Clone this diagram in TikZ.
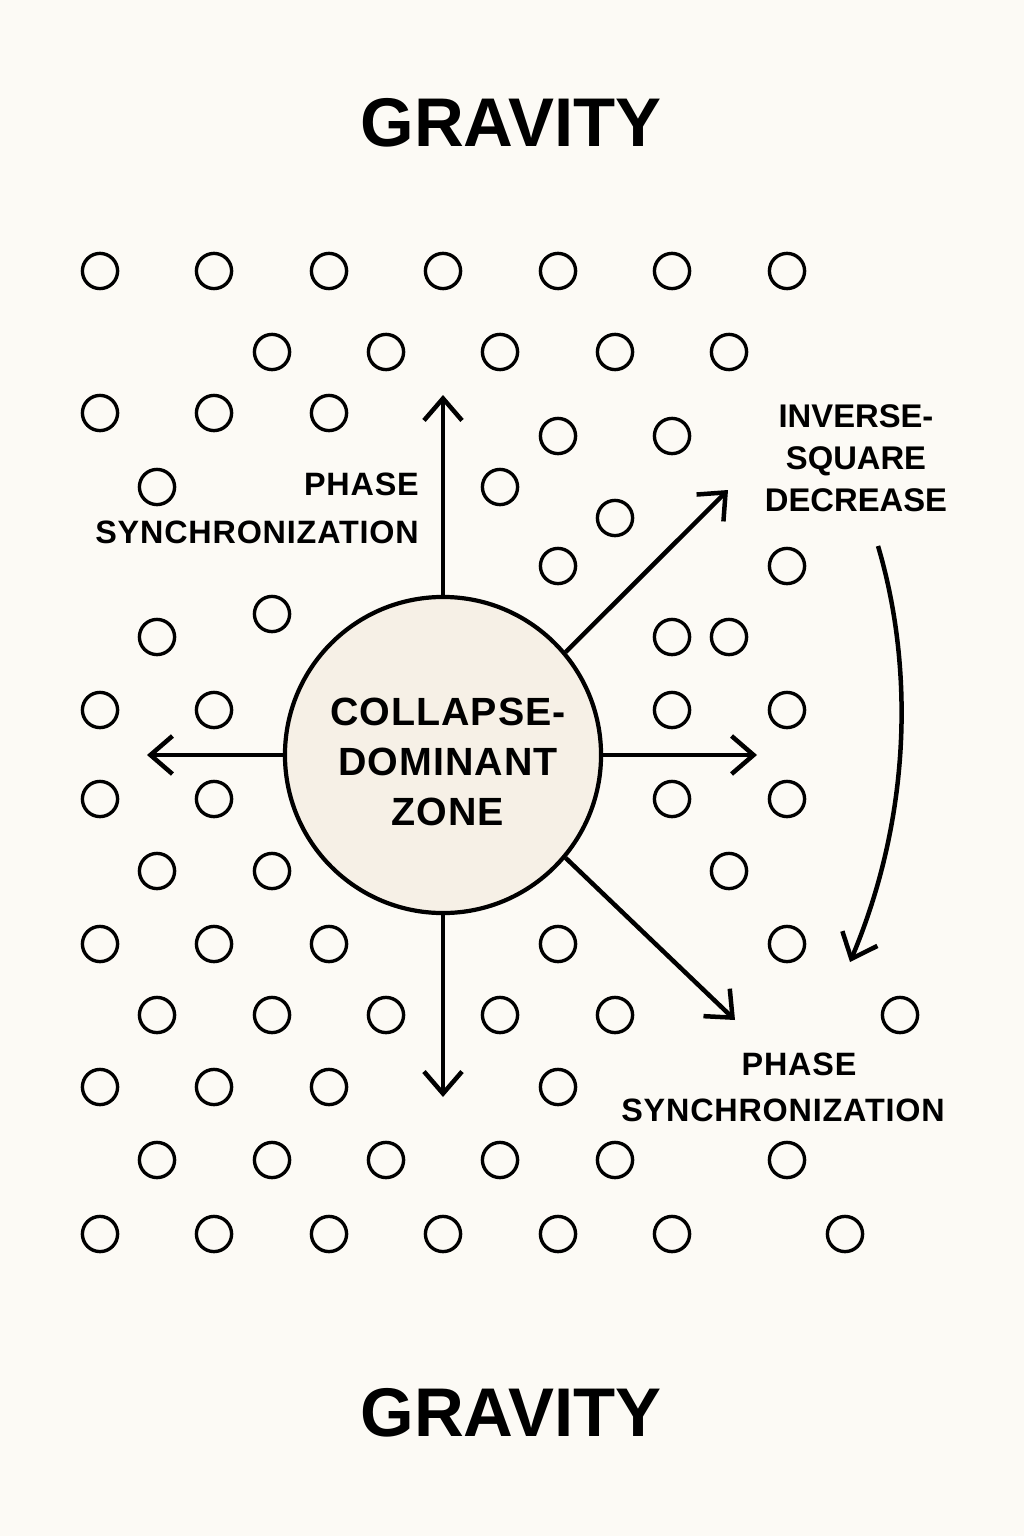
\documentclass[tikz,border=0pt]{standalone}
\usepackage{fontspec}
\setmainfont{Liberation Sans}
\newfontfamily\labfont[LetterSpace=2.5]{Liberation Sans}
\newfontfamily\ttlfont[LetterSpace=0.0]{Liberation Sans}
\usetikzlibrary{arrows.meta}
\definecolor{bg}{HTML}{FCFAF5}
\definecolor{zonefill}{HTML}{F6F0E6}
\begin{document}
\begin{tikzpicture}[x=0.025cm,y=-0.025cm,
  dot/.style={circle,draw=black,line width=2.4pt,minimum size=0.88cm,inner sep=0pt},
  arr/.style={line width=3.2pt,-{Straight Barb[length=0.55cm,width=0.95cm,line width=3.2pt]}},
  lab/.style={font={\labfont\bfseries\fontsize{23}{34}\selectfont},inner sep=0pt},
  ttl/.style={font={\ttlfont\bfseries\fontsize{49}{55}\selectfont},inner sep=0pt}]
\fill[bg] (0,0) rectangle (1024,1536);
\useasboundingbox (0,0) rectangle (1024,1536);
% titles
\node[ttl] (gtop) at (511,123) {GRAVITY};
\node[ttl] (gbot) at (511,1413) {GRAVITY};
% small circles
\foreach \x/\y [count=\i] in {
  100/271,214/271,329/271,443/271,558/271,672/271,787/271,
  272/352,386/352,500/352,615/352,729/352,
  100/413,214/413,329/413,
  558/436,672/436,
  157/487,500/487,
  615/518,
  558/566,787/566,
  272/614,
  157/637,672/637,729/637,
  100/710,214/710,672/710,787/710,
  100/799,214/799,672/799,787/799,
  157/871,272/871,729/871,
  100/944,214/944,329/944,558/944,787/944,
  157/1015,272/1015,386/1015,500/1015,615/1015,900/1015,
  100/1087,214/1087,329/1087,558/1087,
  157/1160,272/1160,386/1160,500/1160,615/1160,787/1160,
  100/1234,214/1234,329/1234,443/1234,558/1234,672/1234,845/1234}
  \node[dot] (d\i) at (\x,\y) {};
% central zone
\node[circle,draw=black,fill=zonefill,line width=3pt,minimum size=7.9cm,inner sep=0pt] (zone) at (443,755) {};
\node[font={\labfont\bfseries\fontsize{28}{35.5}\selectfont},align=center,inner sep=0pt] (ztext) at (448,762) {COLLAPSE-\\DOMINANT\\ZONE};
% arrow ends
\coordinate (up) at (443,395);
\coordinate (down) at (443,1097);
\coordinate (left) at (147,755);
\coordinate (right) at (757,755);
\coordinate (ne) at (728,490);
\coordinate (se) at (735,1020);
\draw[arr] (zone.north) -- (up);
\draw[arr] (zone.south) -- (down);
\draw[arr] (zone.west) -- (left);
\draw[arr] (zone.east) -- (right);
\draw[arr] (zone.40) -- (ne);
\draw[arr] (zone.-40) -- (se);
% curved arrow
\coordinate (cs) at (878,546);
\coordinate (ce) at (850,962);
\draw[arr] (cs) .. controls (912,660) and (914,810) .. (ce);
% labels
\node[lab,align=right,anchor=east] (ps1) at (419,508) {PHASE\\SYNCHRONIZATION};
\node[lab,align=center,font={\ttlfont\bfseries\fontsize{23.3}{30}\selectfont}] (inv) at (856,458) {INVERSE-\\SQUARE\\DECREASE};
\node[lab] (ps2a) at (799,1064) {PHASE};
\node[lab] (ps2b) at (783,1110) {SYNCHRONIZATION};
\end{tikzpicture}
\end{document}
